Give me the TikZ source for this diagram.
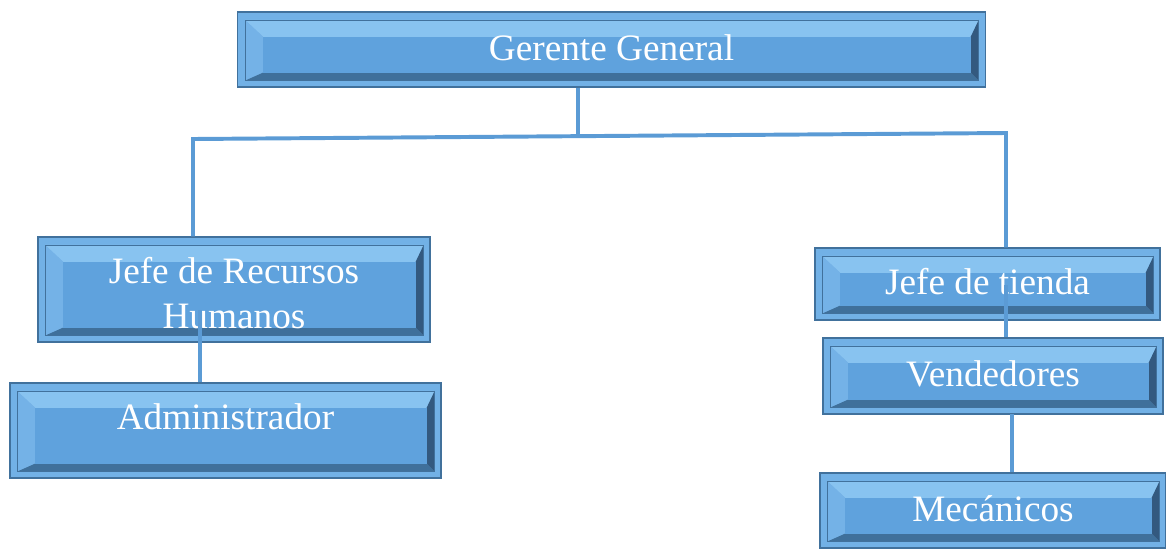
\documentclass[tikz,border=0pt]{standalone}
\usepackage{fontspec}
\setmainfont{Liberation Serif}
\usetikzlibrary{calc}
\definecolor{rimblue}{HTML}{72B1E6}
\definecolor{edgeblue}{HTML}{41719C}
\definecolor{faceblue}{HTML}{5FA2DD}
\definecolor{toplight}{HTML}{88C3F0}
\definecolor{leftlight}{HTML}{74B2E7}
\definecolor{botdark}{HTML}{3F709B}
\definecolor{rightdark}{HTML}{33597F}
\definecolor{linkblue}{HTML}{5B9BD5}

\begin{document}
\begin{tikzpicture}[x = 0.025cm, y = -0.025cm,
  orgbox/.style = {draw = edgeblue, line width = 0.8pt, fill = rimblue, text = white,
    font = \fontsize{26.5}{32}\selectfont, align = center, inner sep = 0pt,
    text height = 0.65cm, text depth = 0.12cm,
    path picture = {
      \path (path picture bounding box.south west) coordinate (a1)
            (path picture bounding box.north east) coordinate (a3);
      \path ($(a1)+(0.18cm,0.16cm)$) coordinate (b1) ($(a3)-(0.16cm,0.2cm)$) coordinate (b3)
            (b1 |- b3) coordinate (b2) (b3 |- b1) coordinate (b4);
      \path ($(b1)+(0.45cm,0.2cm)$) coordinate (c1) ($(b3)-(0.2cm,0.42cm)$) coordinate (c3)
            (c1 |- c3) coordinate (c2) (c3 |- c1) coordinate (c4);
      \fill[toplight] (b2) -- (b3) -- (c3) -- (c2) -- cycle;
      \fill[leftlight] (b1) -- (b2) -- (c2) -- (c1) -- cycle;
      \fill[botdark] (b1) -- (b4) -- (c4) -- (c1) -- cycle;
      \fill[rightdark] (b4) -- (b3) -- (c3) -- (c4) -- cycle;
      \fill[faceblue] (c1) rectangle (c3);
      \draw[edgeblue, line width = 0.6pt] (b1) rectangle (b3);
    }},
  link/.style = {draw = linkblue, line width = 2.8pt}]
\useasboundingbox (0, 0) rectangle (1166, 548);
\clip (0, 0) rectangle (1166, 548);

\node[orgbox, minimum width = 18.675cm, minimum height = 1.875cm] (gg) at (611.5, 49.5) {Gerente General};
\node[orgbox, minimum width = 9.8cm, minimum height = 2.625cm, text height = 2.08cm, text depth = 0.12cm] (rrhh) at (234, 289.5) {Jefe de Recursos\\Humanos};
\node[orgbox, minimum width = 10.775cm, minimum height = 2.375cm, text depth = 0.7cm] (adm) at (225.5, 430.5) {Administrador};
\node[orgbox, minimum width = 8.625cm, minimum height = 1.8cm] (tienda) at (987.5, 284) {Jefe de tienda};
\node[orgbox, minimum width = 8.5cm, minimum height = 1.9cm] (vend) at (993, 376) {Vendedores};
\node[orgbox, minimum width = 8.65cm, minimum height = 1.875cm] (mec) at (993, 510.5) {Mecánicos};

\coordinate (hub) at (578, 136);
\coordinate (lt) at (193, 139);
\coordinate (rt) at (1006, 133);
\coordinate (rh) at (200, 310);
\coordinate (jt) at (1006, 285);
\coordinate (vd) at (1012, 414);

\draw[link] (gg.south -| hub) -- (hub);
\draw[link] (lt |- rrhh.north) -- (lt) -- (rt) -- (rt |- tienda.north);
\draw[link] (rh) -- (rh |- adm.north);
\draw[link] (jt) -- (jt |- vend.north);
\draw[link] (vd) -- (vd |- mec.north);
\end{tikzpicture}
\end{document}
